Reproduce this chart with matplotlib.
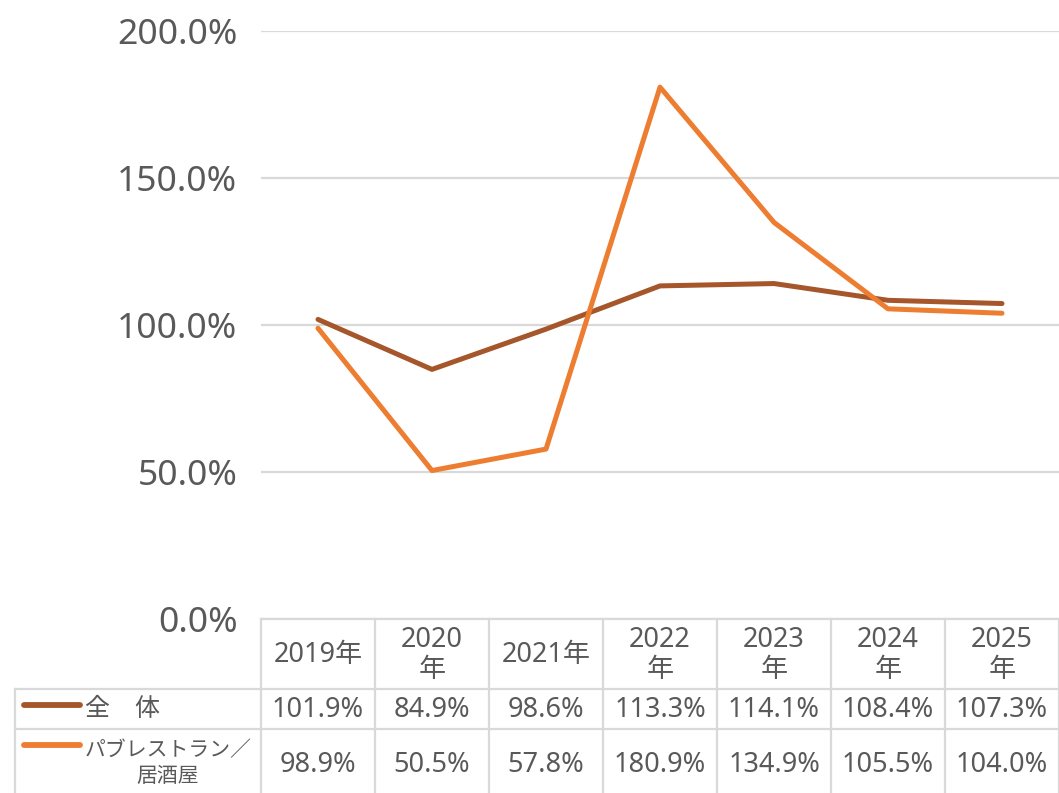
import numpy as np
import matplotlib.pyplot as plt

plt.rcParams['font.family'] = ['Noto Sans', 'Noto Sans CJK JP', 'DejaVu Sans']

years = ['2019年', '2020\n年', '2021年', '2022\n年', '2023\n年', '2024\n年', '2025\n年']
series_names = ['全\u3000体', 'パブレストラン／\n居酒屋']
zentai = [101.9, 84.9, 98.6, 113.3, 114.1, 108.4, 107.3]
pub = [98.9, 50.5, 57.8, 180.9, 134.9, 105.5, 104.0]
colors = ['#A5562A', '#ED7D31']
yticks = [0, 50, 100, 150, 200]

W, H = 1059, 793
text_c = '#595959'
grid_c = '#d9d9d9'

fig = plt.figure(figsize=(W / 100, H / 100), dpi=100)

# plot area (pixel geometry of the reference)
left, right, top, bottom = 261, 1059, 31, 619
ax = fig.add_axes([left / W, (H - bottom) / H, (right - left) / W, (bottom - top) / H])
x = np.arange(len(years))
for vals, c in zip([zentai, pub], colors):
    ax.plot(x, vals, color=c, lw=3.6, solid_capstyle='round', zorder=3)
ax.set_xlim(-0.5, len(years) - 0.5)
ax.set_ylim(0, 200)
ax.set_yticks(yticks)
ax.set_yticklabels([f'{v:.1f}%' for v in yticks], fontsize=25.5, color=text_c)
ax.tick_params(axis='y', length=0, pad=17)
ax.set_xticks([])
ax.grid(axis='y', color=grid_c, lw=1.6)
for s in ['top', 'right', 'left']:
    ax.spines[s].set_visible(False)
ax.spines['bottom'].set_color(grid_c)
ax.spines['bottom'].set_linewidth(1.6)

# data table below the plot
tab = fig.add_axes([left / W, 0, (right - left) / W, (H - bottom) / H])
tab.set_xlim(-0.5, len(years) - 0.5)
tab.set_ylim(H - bottom, 0)
tab.axis('off')
col_w = (right - left) / len(years)


def px(xp):
    return (xp - left) / col_w - 0.5


row_edges = [0, 70, 110, H - bottom]
tab_left = px(15)
kw = dict(color=grid_c, lw=1.6, clip_on=False)
for r in row_edges[1:3]:
    tab.plot([tab_left, len(years) - 0.5], [r, r], **kw)
for i in range(len(years) + 1):
    tab.plot([i - 0.5, i - 0.5], [0, H - bottom], **kw)
tab.plot([tab_left, tab_left], [70, H - bottom], **kw)

fs = 19.5
for i, lab in enumerate(years):
    tab.text(i, 36, lab, ha='center', va='center', fontsize=fs, color=text_c,
             linespacing=1.1, multialignment='center')
for i, v in enumerate(zentai):
    tab.text(i, 91, f'{v:.1f}%', ha='center', va='center', fontsize=fs, color=text_c)
for i, v in enumerate(pub):
    tab.text(i, 146, f'{v:.1f}%', ha='center', va='center', fontsize=fs, color=text_c)

# legend keys inside the table
tab.plot([px(24), px(80)], [86, 86], color=colors[0], lw=4.2, solid_capstyle='round', clip_on=False)
tab.text(px(85), 90, series_names[0], ha='left', va='center', fontsize=18, color=text_c,
         family=['Noto Sans CJK JP'], clip_on=False)
tab.plot([px(24), px(80)], [126, 126], color=colors[1], lw=4.2, solid_capstyle='round', clip_on=False)
tab.text(px(168), 144, series_names[1], ha='center', va='center', fontsize=15, color=text_c,
         family=['Noto Sans CJK JP'], linespacing=1.25, multialignment='center', clip_on=False)

fig.savefig('out.png', dpi=100)
